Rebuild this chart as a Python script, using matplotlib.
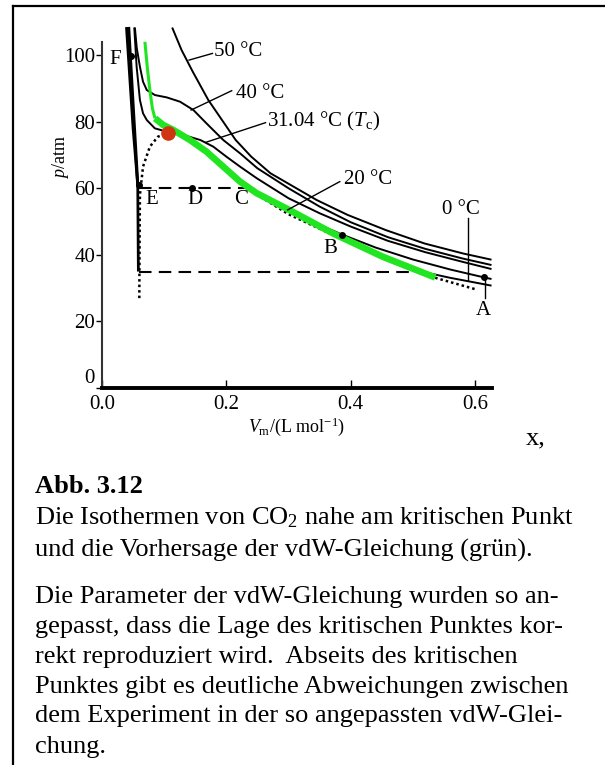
import numpy as np
import matplotlib.pyplot as plt
from matplotlib.lines import Line2D

plt.rcParams['font.family'] = ['Liberation Serif', 'DejaVu Serif']
plt.rcParams['mathtext.fontset'] = 'custom'
plt.rcParams['mathtext.rm'] = 'Liberation Serif'
plt.rcParams['mathtext.it'] = 'Liberation Serif:italic'

# isotherms (V in L/mol, p in atm)
v_50 = [0.1135, 0.128, 0.146, 0.171, 0.193, 0.215, 0.240, 0.271, 0.308, 0.345, 0.395, 0.457, 0.519, 0.581, 0.625]
p_50 = [108, 101.5, 95, 86.5, 80.5, 74.5, 69.5, 64.5, 60.5, 56.5, 52, 47.4, 43.4, 40.4, 38.6]

v_40 = [0.053, 0.056, 0.061, 0.066, 0.072, 0.085, 0.104, 0.1255, 0.147, 0.168, 0.195, 0.222, 0.25, 0.3, 0.35, 0.4, 0.46, 0.52, 0.58, 0.625]
p_40 = [108, 102, 96.5, 92, 89.5, 88, 87.3, 86, 83.5, 79.5, 74.5, 70.5, 66, 60, 54.5, 49.8, 45.3, 41.8, 38.9, 37.0]

v_31 = [0.052, 0.0557, 0.061, 0.066, 0.072, 0.085, 0.104, 0.131, 0.158, 0.179, 0.2, 0.222, 0.249, 0.3, 0.35, 0.4, 0.46, 0.52, 0.58, 0.625]
p_31 = [108, 96.5, 86.5, 82.5, 80.5, 78, 77, 76, 74.5, 72.5, 69.5, 66.5, 63, 57, 52.5, 48.5, 44.2, 40.8, 37.9, 35.8]

v_20 = [0.233, 0.26, 0.2986, 0.34, 0.386, 0.44, 0.5, 0.56, 0.615, 0.625]
p_20 = [60, 56.8, 53.5, 49.8, 46.1, 42.2, 38.6, 35.6, 33.2, 32.8]

v_0 = [0.513, 0.56, 0.625]
p_0 = [35, 33.1, 30.8]

# liquid branches (left, steep)
v_liq20 = [0.043, 0.050, 0.0575]
p_liq20 = [108, 85, 61]
v_liq0 = [0.0395, 0.050, 0.0575, 0.0585]
p_liq0 = [108, 78, 61, 35.4]

# tie lines
v_tie60 = [0.0595, 0.233]
p_tie60 = [60.2, 60.2]
v_tie35 = [0.0595, 0.513]
p_tie35 = [34.9, 34.9]

# coexistence envelope (dotted)
v_env = [0.060, 0.0605, 0.061, 0.066, 0.077, 0.09, 0.1056, 0.131, 0.158, 0.171, 0.2, 0.233, 0.3, 0.4, 0.513, 0.538, 0.6]
p_env = [27, 45, 58, 66.5, 72.5, 75.5, 76.5, 76.2, 72.5, 70.5, 66, 60, 52.2, 43.5, 35, 33, 29.7]

# vdW prediction (green)
v_vdw = [0.069, 0.073, 0.077, 0.081, 0.0853, 0.0986, 0.1147, 0.1415, 0.168, 0.195, 0.222, 0.249, 0.302, 0.372, 0.452, 0.536]
p_vdw = [104, 96, 89.5, 84, 81, 79, 77.5, 74.5, 71, 66.5, 62, 58.5, 53.4, 46.4, 39.4, 33.2]

# labelled points
pt_names = ['A', 'B', 'D', 'E', 'F']
pt_v = [0.615, 0.386, 0.1446, 0.0595, 0.046]
pt_p = [33.2, 46.1, 60.2, 61, 99.7]
crit_v, crit_p = 0.1056, 76.5

fig = plt.figure(figsize=(6.05, 7.65), dpi=100)
ax = fig.add_axes([0.1686, 0.4928, 0.6443, 0.470])

lw = 1.4
ax.plot(v_env, p_env, color='k', ls=(0, (1, 1.2)), lw=1.8)
ax.plot(v_50, p_50, color='k', lw=lw, clip_on=False)
ax.plot(v_40, p_40, color='k', lw=lw, clip_on=False)
ax.plot(v_31, p_31, color='k', lw=lw, clip_on=False)
ax.plot(v_20, p_20, color='k', lw=lw)
ax.plot(v_0, p_0, color='k', lw=lw)
ax.plot(v_liq20, p_liq20, color='k', lw=2.2, clip_on=False)
ax.plot(v_liq0, p_liq0, color='k', lw=2.0, clip_on=False)
ax.plot(v_tie60, p_tie60, color='k', lw=1.5, ls=(0, (6, 3.5)))
ax.plot(v_tie35, p_tie35, color='k', lw=1.5, ls=(0, (6, 3.5)))

ax.plot(v_vdw[:5], p_vdw[:5], color='#22e522', lw=2.2, solid_capstyle='butt')
ax.plot(v_vdw[4:], p_vdw[4:], color='#22e522', lw=4.8, solid_capstyle='butt')
ax.plot([crit_v], [crit_p], 'o', color='#cf3510', ms=9.5)

ax.plot(pt_v, pt_p, 'o', color='k', ms=4)

# leader lines
ax.plot([0.140, 0.1776], [98.5, 100.5], color='k', lw=1)
ax.plot([0.1433, 0.2086], [83.5, 89.3], color='k', lw=1)
ax.plot([0.167, 0.263], [73.8, 79.7], color='k', lw=1)
ax.plot([0.2986, 0.3825], [53.5, 62], color='k', lw=1)
ax.plot([0.589, 0.589], [51, 32.4], color='k', lw=1)
ax.plot([0.616, 0.616], [32.4, 27], color='k', lw=1)

fs = 15
ax.text(0.180, 101, '50 °C', fontsize=fs, va='center')
ax.text(0.2148, 88.5, '40 °C', fontsize=fs, va='center')
ax.text(0.2657, 80, r'31.04 °C ($T_\mathrm{c}$)', fontsize=fs, va='center')
ax.text(0.389, 62.5, '20 °C', fontsize=fs, va='center')
ax.text(0.577, 53.5, '0 °C', fontsize=fs, va='center', ha='center')
ax.text(0.613, 23.4, 'A', fontsize=fs, va='center', ha='center')
ax.text(0.367, 42, 'B', fontsize=fs, va='center', ha='center')
ax.text(0.224, 56.5, 'C', fontsize=fs, va='center', ha='center')
ax.text(0.1496, 56.5, 'D', fontsize=fs, va='center', ha='center')
ax.text(0.08, 56.5, 'E', fontsize=fs, va='center', ha='center')
ax.text(0.022, 98.7, 'F', fontsize=fs, va='center', ha='center')

ax.set_xlim(0, 0.627)
ax.set_ylim(0, 108)
ax.spines['top'].set_visible(False)
ax.spines['right'].set_visible(False)
ax.spines['left'].set_bounds(0, 104)
ax.spines['left'].set_linewidth(1.5)
ax.spines['left'].set_color('#333333')
ax.spines['bottom'].set_linewidth(2.8)
ax.set_xticks([0.0, 0.2, 0.4, 0.6])
ax.set_xticklabels(['0.0', '0.2', '0.4', '0.6'])
ax.set_yticks([0, 20, 40, 60, 80, 100])
ax.tick_params(axis='x', direction='in', length=6, width=1, pad=5, labelsize=fs)
ax.tick_params(axis='y', direction='out', length=4, width=1, pad=1, labelsize=fs)
# lift the "0" a little so it sits above the x tick labels
ax.yaxis.get_major_ticks()[0].label1.set_verticalalignment('bottom')
ax.set_ylabel(r'$p$/atm', fontsize=13)
ax.yaxis.set_label_coords(-0.08, 0.642)
ax.set_xlabel(r'$V_\mathrm{m}$/(L mol$^{-1}$)', fontsize=13, labelpad=1)

# caption
W, H = 605, 765
def ftext(x, y, s, **kw):
    fig.text(x / W, 1 - y / H, s, va='center', **kw)

cs = 19
ftext(526, 438, 'x,', fontsize=cs)
ftext(35, 487, 'Abb. 3.12', fontsize=cs, weight='bold')
ftext(35, 518, 'Die Isothermen von CO$_2$ nahe am kritischen Punkt', fontsize=cs)
ftext(35, 550, 'und die Vorhersage der vdW-Gleichung (grün).', fontsize=cs)
ftext(35, 597, 'Die Parameter der vdW-Gleichung wurden so an-', fontsize=cs)
ftext(35, 627, 'gepasst, dass die Lage des kritischen Punktes kor-', fontsize=cs)
ftext(35, 657, 'rekt reproduziert wird.  Abseits des kritischen', fontsize=cs)
ftext(35, 687, 'Punktes gibt es deutliche Abweichungen zwischen', fontsize=cs)
ftext(35, 716, 'dem Experiment in der so angepassten vdW-Glei-', fontsize=cs)
ftext(35, 747, 'chung.', fontsize=cs)

# frame
fig.add_artist(Line2D([13 / W, 1], [1 - 6 / H, 1 - 6 / H], color='k', lw=1.6))
fig.add_artist(Line2D([13 / W, 13 / W], [1 - 6 / H, 0], color='k', lw=1.6))

fig.savefig('out.png', dpi=100)
